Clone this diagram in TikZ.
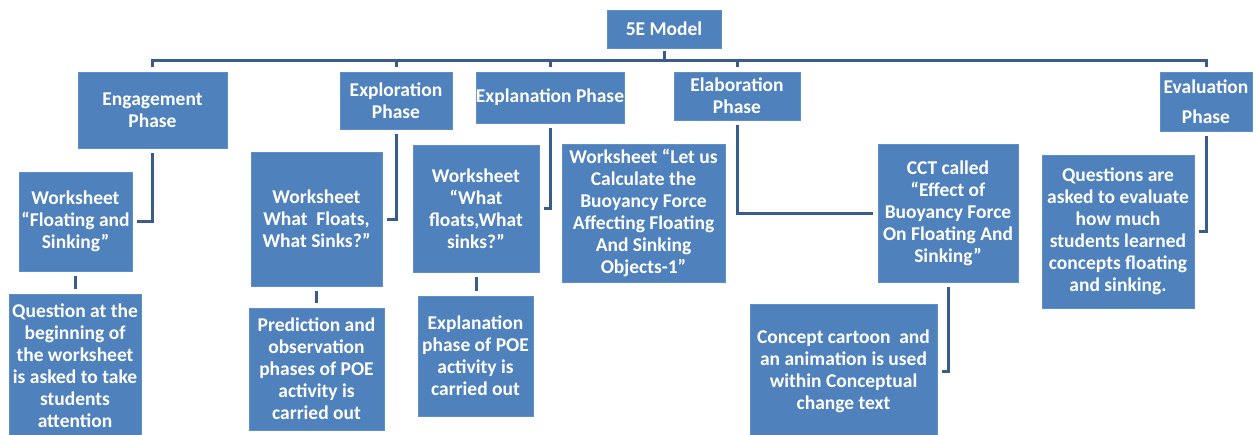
\documentclass[tikz,border=0pt]{standalone}
\usepackage{fontspec}
\setmainfont{Carlito}
\usepackage{tikz}
\usepackage{xcolor}
\definecolor{smartBlue}{RGB}{79, 129, 189}
\definecolor{smartEdge}{RGB}{95, 143, 200}
\definecolor{linkBlue}{RGB}{56, 93, 138}

\begin{document}
\begin{tikzpicture}[x=1pt, y=-1pt,
    box/.style={draw=smartEdge, fill=smartBlue, text=white, inner sep=0pt, align=center,
                font=\fontsize{19.5}{22}\selectfont\bfseries},
    link/.style={line width=3pt, color=linkBlue, shorten >=5pt, shorten <=5pt}]
    \clip (0,0) rectangle (1259,434);
    \fill[white] (0,0) rectangle (1259,434);
    % top and the five phases
    \node[box, minimum width=114, minimum height=38] (model) at (664,29) {5E Model};
    \node[box, minimum width=149, minimum height=76] (engage) at (152.5,110) {Engagement\\Phase};
    \node[box, minimum width=112, minimum height=57] (explore) at (396,100.5) {Exploration\\Phase};
    \node[box, minimum width=148, minimum height=51] (explain) at (550,97.5) {Explanation Phase};
    \node[box, minimum width=126, minimum height=48] (elab) at (737,96) {Elaboration\\Phase};
    \node[box, minimum width=92, minimum height=59] (eval) at (1206,101.5) {Evaluation\\[8pt]Phase};
    % worksheets and activities
    \node[box, minimum width=113, minimum height=99] (floatws) at (75.5,221.5) {Worksheet\\“Floating and\\Sinking”};
    \node[box, minimum width=132, minimum height=144] (question) at (75,366) {Question at the\\beginning of\\the worksheet\\is asked to take\\students\\attention};
    \node[box, minimum width=131, minimum height=134] (whatws) at (316.5,219) {Worksheet\\What~ Floats,\\What Sinks?”};
    \node[box, minimum width=135, minimum height=122] (predict) at (316.5,369) {Prediction and\\observation\\phases of POE\\activity is\\carried out};
    \node[box, minimum width=126, minimum height=127] (sinksws) at (476,208.5) {Worksheet\\“What\\floats,What\\sinks?”};
    \node[box, minimum width=115, minimum height=120] (poe) at (475.5,356) {Explanation\\phase of POE\\activity is\\carried out};
    \node[box, minimum width=163, minimum height=138] (calcws) at (643.5,213) {Worksheet “Let us\\Calculate the\\Buoyancy Force\\Affecting Floating\\And Sinking\\Objects-1”};
    \node[box, minimum width=140, minimum height=138] (cct) at (948,213) {CCT called\\“Effect of\\Buoyancy Force\\On Floating And\\Sinking”};
    \node[box, minimum width=187, minimum height=134] (cartoon) at (843.5,371) {Concept cartoon~ and\\an animation is used\\within Conceptual\\change text};
    \node[box, minimum width=152, minimum height=153] (evalq) at (1118,231.5) {Questions are\\asked to evaluate\\how much\\students learned\\concepts floating\\and sinking.};
    % tree bar
    \foreach \p in {engage, explore, explain, elab, eval}
        \draw[link, shorten <=3pt] (model.south) -- ++(0,12) -| (\p.north);
    % phase to worksheet
    \draw[link] (engage.south) |- (floatws.east);
    \draw[link] (explore.south) |- (whatws.east);
    \draw[link] (explain.south) |- (sinksws.east);
    \draw[link] (elab.south) |- (cct.west);
    \draw[link] (eval.south) |- (evalq.east);
    \draw[link] (cct.south) |- (cartoon.east);
    \draw[link] (floatws.south) -- (floatws.south |- question.north);
    \draw[link] (whatws.south) -- (whatws.south |- predict.north);
    \draw[link] (sinksws.south) -- (sinksws.south |- poe.north);
\end{tikzpicture}
\end{document}
